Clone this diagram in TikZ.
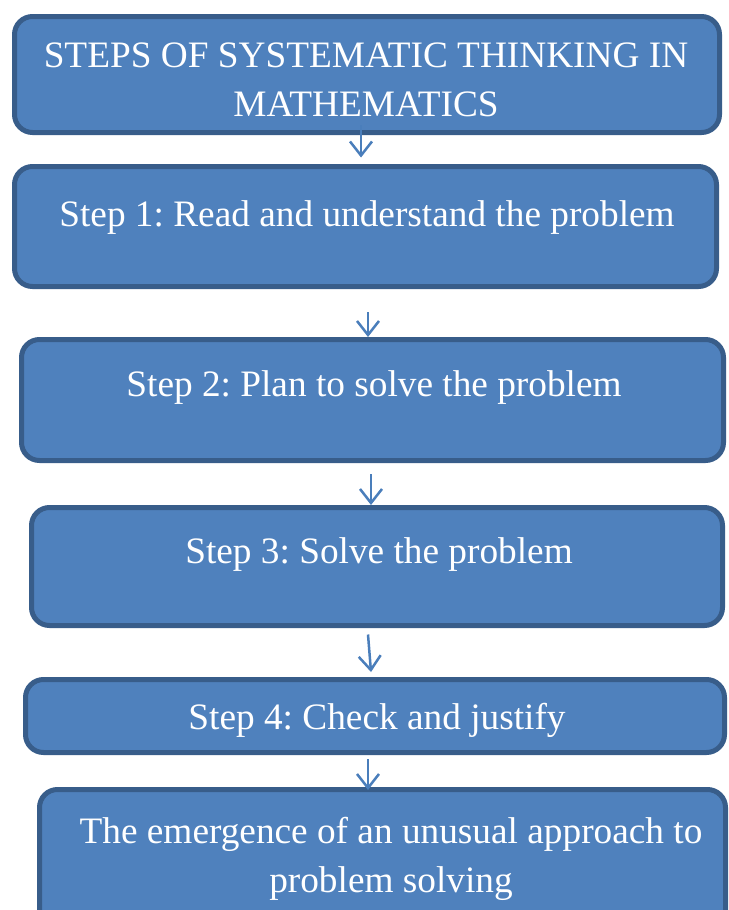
\documentclass[tikz,border=0pt]{standalone}
\usepackage{fontspec}
\setmainfont{Liberation Serif}
\usetikzlibrary{arrows.meta}
\frenchspacing
\definecolor{boxfill}{HTML}{4F81BD}
\definecolor{boxline}{HTML}{385D8A}
\definecolor{connblue}{HTML}{4A7EBB}
\tikzset{
  stepbox/.style={draw=boxline, fill=boxfill, line width=5pt, rounded corners=18pt,
    rectangle, inner sep=0pt, outer sep=0pt},
  steptext/.style={text=white, anchor=base, align=center, inner sep=0pt,
    font=\fontsize{37.3pt}{49pt}\selectfont},
  conn/.style={draw=connblue, line width=2.5pt,
    -{Straight Barb[length=14pt,width=22pt,line width=2.5pt]}},
}
\begin{document}
\begin{tikzpicture}[x=1pt,y=-1pt]
  \useasboundingbox (0,0) rectangle (728,910);
  \clip (0,0) rectangle (728,910);
  \fill[white] (0,0) rectangle (728,910);

  % boxes
  \node[stepbox, minimum width=705pt, minimum height=116pt] (b0) at (367,74.5) {};
  \node[stepbox, minimum width=702pt, minimum height=120pt] (b1) at (365.5,226.5) {};
  \node[stepbox, minimum width=702pt, minimum height=121pt] (b2) at (372.5,400) {};
  \node[stepbox, minimum width=691pt, minimum height=118pt] (b3) at (377,566.5) {};
  \node[stepbox, minimum width=699pt, minimum height=73pt] (b4) at (375,716) {};
  \node[stepbox, minimum width=686pt, minimum height=170pt] (b5) at (382.5,874.5) {};

  % labels (base anchor of a two-line label is the last line's baseline)
  \node[steptext] (t0) at (366,116) {STEPS OF SYSTEMATIC THINKING IN\\MATHEMATICS};
  \node[steptext] (t1) at (367,226) {Step 1: Read and understand the problem};
  \node[steptext] (t2) at (374,396) {Step 2: Plan to solve the problem};
  \node[steptext] (t3) at (379,563) {Step 3: Solve the problem};
  \node[steptext] (t4) at (377,729) {Step 4: Check and justify};
  \node[steptext] (t5) at (391,892) {The emergence of an unusual approach to\\problem solving};

  % connectors
  \draw[conn] ([xshift=-6pt,yshift=7.5pt]b0.south) -- ([xshift=-4.5pt,yshift=9pt]b1.north);
  \draw[conn] ([xshift=2.5pt,yshift=-25.5pt]b1.south) -- ([xshift=-4.5pt,yshift=2.5pt]b2.north);
  \draw[conn] ([xshift=-1.5pt,yshift=-13.5pt]b2.south) -- ([xshift=-6pt,yshift=2.5pt]b3.north);
  \draw[conn] ([xshift=-9pt,yshift=-9pt]b3.south) -- ([xshift=-4pt,yshift=7.5pt]b4.north);
  \draw[conn] ([xshift=-7pt,yshift=-6.5pt]b4.south) -- ([xshift=-14.5pt,yshift=-0.5pt]b5.north);
\end{tikzpicture}
\end{document}
